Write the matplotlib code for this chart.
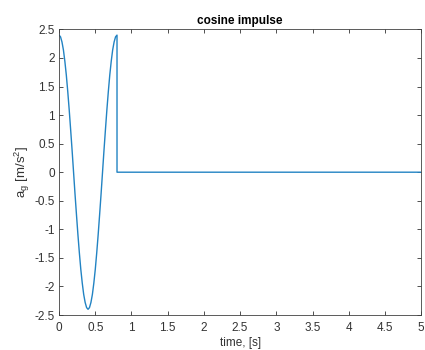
import matplotlib
matplotlib.use("Agg")
import matplotlib.pyplot as plt

# time samples (s) and ground acceleration (m/s^2)
time = [0.00, 0.02, 0.04, 0.06, 0.08, 0.10, 0.12, 0.14, 0.16, 0.18,
        0.20, 0.22, 0.24, 0.26, 0.28, 0.30, 0.32, 0.34, 0.36, 0.38,
        0.40, 0.42, 0.44, 0.46, 0.48, 0.50, 0.52, 0.54, 0.56, 0.58,
        0.60, 0.62, 0.64, 0.66, 0.68, 0.70, 0.72, 0.74, 0.76, 0.78,
        0.80, 0.80, 5.00]
accel = [2.40, 2.37, 2.28, 2.14, 1.94, 1.70, 1.41, 1.09, 0.74, 0.38,
         0.00, -0.38, -0.74, -1.09, -1.41, -1.70, -1.94, -2.14, -2.28, -2.37,
         -2.40, -2.37, -2.28, -2.14, -1.94, -1.70, -1.41, -1.09, -0.74, -0.38,
         0.00, 0.38, 0.74, 1.09, 1.41, 1.70, 1.94, 2.14, 2.28, 2.37,
         2.40, 0.00, 0.00]

xticks = [0, 0.5, 1, 1.5, 2, 2.5, 3, 3.5, 4, 4.5, 5]
xticklabels = ["0", "0.5", "1", "1.5", "2", "2.5", "3", "3.5", "4", "4.5", "5"]
yticks = [-2.5, -2, -1.5, -1, -0.5, 0, 0.5, 1, 1.5, 2, 2.5]
yticklabels = ["-2.5", "-2", "-1.5", "-1", "-0.5", "0", "0.5", "1", "1.5", "2", "2.5"]

plt.rcParams['font.family'] = ['Liberation Sans', 'DejaVu Sans']

fig = plt.figure(figsize=(4.25, 3.5), dpi=100)
ax = fig.add_axes([0.139, 0.1, 0.852, 0.816])
ax.plot(time, accel, color='#2283c3', linewidth=1.0)
ax.set_xlim(0, 5)
ax.set_ylim(-2.5, 2.5)
ax.set_xticks(xticks)
ax.set_xticklabels(xticklabels)
ax.set_yticks(yticks)
ax.set_yticklabels(yticklabels)
ax.tick_params(direction='in', top=True, right=True, labelsize=8.5,
               colors='#333333', length=3, width=0.6)
ax.tick_params(axis='x', pad=5)
ax.tick_params(axis='y', pad=3)
for s in ax.spines.values():
    s.set_color('#404040')
    s.set_linewidth(0.6)
ax.set_title('cosine impulse', fontsize=8.5, fontweight='bold', pad=4)
ax.set_xlabel('time, [s]', fontsize=8.5, color='#333333', labelpad=2)
ax.set_ylabel(r'a$_\mathregular{g}$ [m/s$^\mathregular{2}$]', fontsize=9.5,
              color='#333333', labelpad=2)
fig.savefig('out.png', dpi=100)
